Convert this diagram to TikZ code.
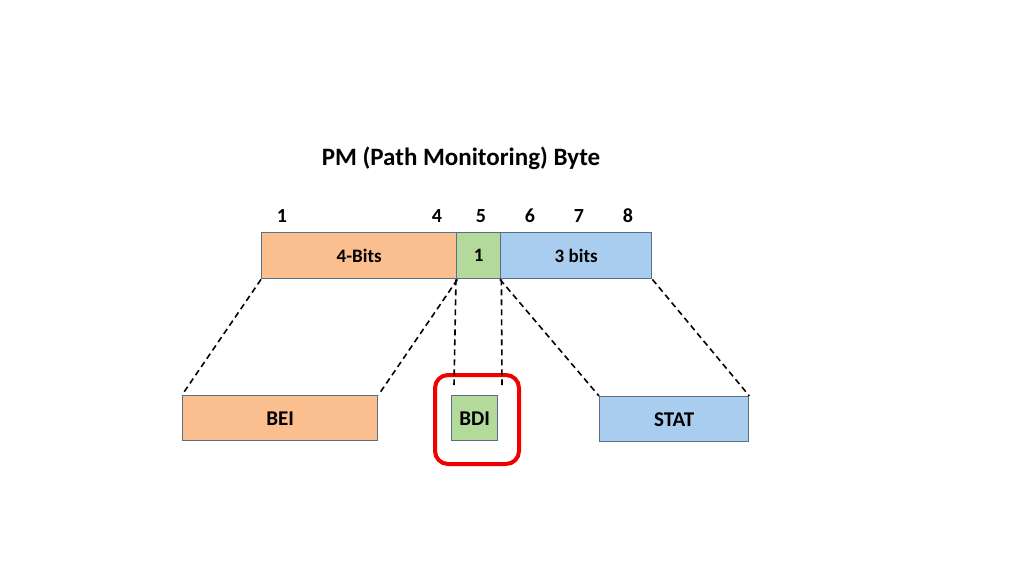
\documentclass[tikz,border=0pt]{standalone}
\usepackage{fontspec}
\setmainfont{Carlito}
\begin{document}
\begin{tikzpicture}[x=1pt,y=-1pt,
  box/.style={draw=boxedge,line width=1.4pt,minimum height=46pt,inner sep=0pt,font=\bfseries\fontsize{19}{22}\selectfont},
  big/.style={font=\bfseries\fontsize{21}{24}\selectfont},
  num/.style={font=\bfseries\fontsize{20}{23}\selectfont},
  link/.style={dashed,line width=1.6pt,dash pattern=on 6pt off 4pt}]
\definecolor{boxedge}{HTML}{5A6E8A}
\definecolor{orangef}{HTML}{FBBE8E}
\definecolor{greenf}{HTML}{B3D99B}
\definecolor{bluef}{HTML}{A9CDEF}
\definecolor{redbox}{HTML}{F00000}
\useasboundingbox[fill=white] (0,0) rectangle (1024,576);
\node[font=\bfseries\fontsize{25}{30}\selectfont] (title) at (461,158) {PM (Path Monitoring) Byte};
\node[num] (n1) at (282,216) {1};
\node[num] (n4) at (437,216) {4};
\node[num] (n5) at (481,216) {5};
\node[num] (n6) at (530,216) {6};
\node[num] (n7) at (579,216) {7};
\node[num] (n8) at (628,216) {8};
\node[box,fill=orangef,minimum width=195pt,anchor=north west] (bits4) at (261,232) {4-Bits};
\node[box,fill=greenf,minimum width=44pt,anchor=north west] (bit1) at (456,232) {1};
\node[box,fill=bluef,minimum width=151pt,anchor=north west] (bits3) at (500,232) {3 bits};
\node[box,big,fill=orangef,minimum width=195pt,minimum height=45pt,anchor=north west] (bei) at (182,395) {BEI};
\node[box,big,fill=greenf,minimum width=46pt,minimum height=45pt,anchor=north west] (bdi) at (451,395) {BDI};
\node[box,big,fill=bluef,minimum width=149pt,minimum height=45pt,anchor=north west] (stat) at (599,396) {STAT};
\node[draw=redbox,line width=4pt,rounded corners=13pt,minimum width=84pt,minimum height=89pt,anchor=north west] (hl) at (433,373) {};
\coordinate (d1) at (454,385);
\coordinate (d2) at (502,385);
\draw[link] (bits4.south west) -- (bei.north west);
\draw[link] (bits4.south east) -- (bei.north east);
\draw[link] (bit1.south west) -- (d1);
\draw[link] (bit1.south east) -- (d2);
\draw[link] (bits3.south west) -- (stat.north west);
\draw[link] (bits3.south east) -- (stat.north east);
\end{tikzpicture}
\end{document}
